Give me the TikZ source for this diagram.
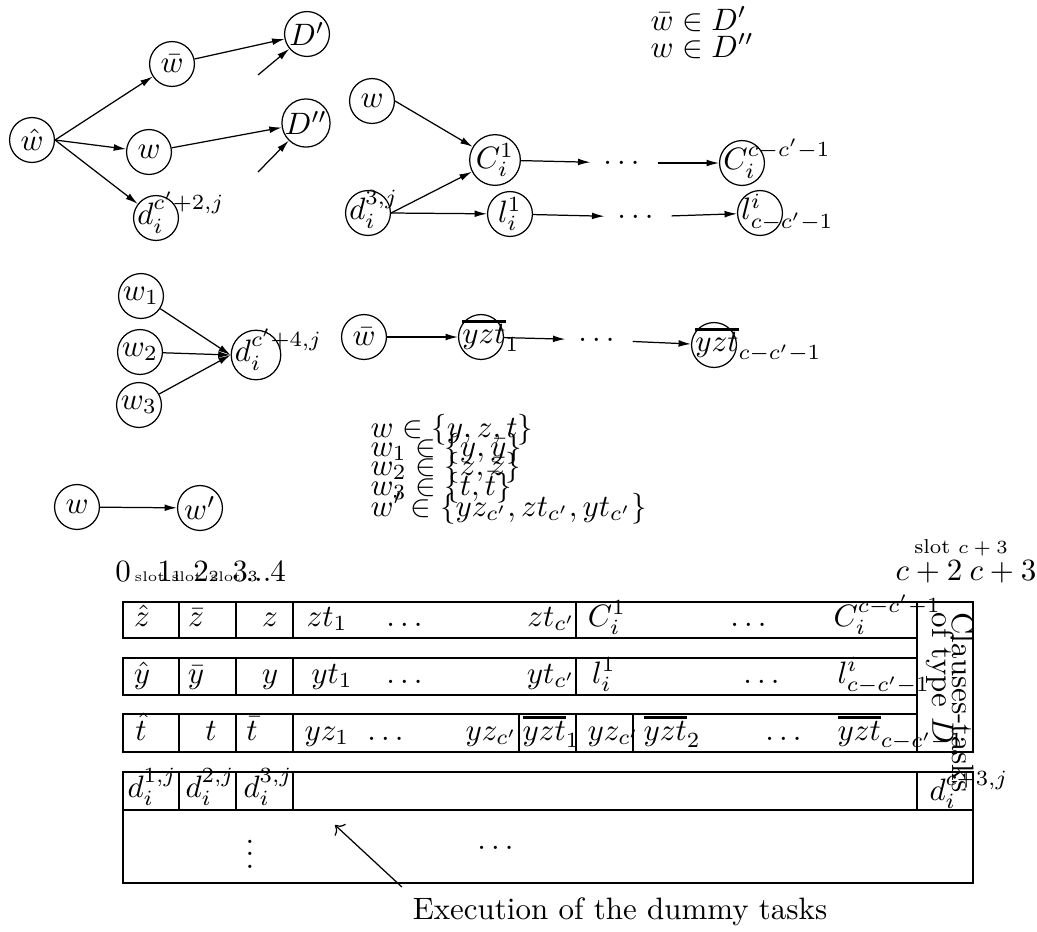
\documentclass[tikz,border=0pt]{standalone}
\usepackage{tikz}
\usetikzlibrary{arrows.meta}
\usepackage{amsmath}
\newcommand{\hvbar}[1]{\vbox{\hrule height 0.9pt\kern 0.6pt\hbox{$#1$}}}

\begin{document}
\begin{tikzpicture}[x=0.323pt, y=-0.323pt,
    task/.style={circle, draw, minimum size=14.5pt, inner sep=0pt},
    spill/.style={label={[anchor=mid west, inner sep=1.2pt]west:#1}},
    flow/.style={-{Latex[length=4pt,width=2.2pt]}},
    dotsn/.style={inner sep=4pt},
    tiny/.style={font=\fontsize{4.5}{5}\selectfont, anchor=base west, inner sep=0pt},
    slotnum/.style={anchor=base, inner sep=0pt},
    rowlbl/.style={anchor=base, inner sep=0pt},
    note/.style={anchor=base west, inner sep=0pt}]
  \useasboundingbox (0,0) rectangle (1037,931);

  % --- w hat and its successors ---
  \node[task] (wh) at (32,140) {$\hat w$};
  \node[task] (wb) at (172,64) {$\bar w$};
  \node[task] (w) at (149,152) {$w$};
  \node[task, spill={$d_i^{c'+2,j}$}] (d2) at (156,218) {};
  \node[task] (Dp) at (307,34) {$D'$};
  \node[task] (Dpp) at (306,123) {$D''$};
  \coordinate (inDp) at (258,75);
  \coordinate (inDpp) at (258,172);
  \draw[flow] (wh.east) -- (wb);
  \draw[flow] (wh.east) -- (w);
  \draw[flow] (wh.east) -- (d2);
  \draw[flow] (wb) -- (Dp);
  \draw[flow] (w) -- (Dpp);
  \draw[flow] (inDp) -- (Dp);
  \draw[flow] (inDpp) -- (Dpp);

  \node[note] (inD1) at (650,30) {$\bar w \in D'$};
  \node[note] (inD2) at (650,57) {$w \in D''$};

  % --- clause chains ---
  \node[task] (wc) at (372,101) {$w$};
  \node[task, spill={$d_i^{3,j}$}] (d3) at (368,213) {};
  \node[task] (C1) at (495,160) {$C_i^1$};
  \node[task] (l1) at (510,214) {$l_i^1$};
  \node[dotsn] (cdots) at (624,163) {$\dots$};
  \node[dotsn] (ldots) at (638,217) {$\dots$};
  \node[task, spill={$C_i^{c-c'-1}$}] (Cn) at (742,163) {};
  \node[task, spill={$l^i_{c-c'-1}$}] (ln) at (760,213) {};
  \draw[flow] (wc.east) -- (C1);
  \draw[flow] (d3.east) -- (C1);
  \draw[flow] (d3.east) -- (l1);
  \draw[flow] (C1) -- (cdots);
  \draw[flow] (cdots) -- (Cn);
  \draw[flow] (l1) -- (ldots);
  \draw[flow] (ldots) -- (ln);

  % --- w1, w2, w3 ---
  \node[task] (w1) at (141,296) {$w_1$};
  \node[task] (w2) at (140,352) {$w_2$};
  \node[task] (w3) at (139,405) {$w_3$};
  \node[task, minimum size=16pt, spill={$d_i^{c'+4,j}$}] (d4) at (256,355) {};
  \draw[flow] (w1) -- (d4.west);
  \draw[flow] (w2) -- (d4.west);
  \draw[flow] (w3) -- (d4.west);

  % --- w bar chain ---
  \node[task] (wbc) at (364,337) {$\bar w$};
  \node[task, spill={$\hvbar{yzt}_1$}] (yzt1) at (481,337) {};
  \node[dotsn] (mdots) at (599,340) {$\dots$};
  \node[task, spill={$\hvbar{yzt}_{c-c'-1}$}] (yztn) at (714,345) {};
  \draw[flow] (wbc) -- (yzt1);
  \draw[flow] (yzt1) -- (mdots);
  \draw[flow] (mdots) -- (yztn);

  % --- w to w' ---
  \node[task] (wl) at (77,507) {$w$};
  \node[task] (wp) at (200,508) {$w'$};
  \draw[flow] (wl) -- (wp);

  \node[note] (dom1) at (370,437) {$w \in \{y,z,t\}$};
  \node[note] (dom2) at (370,456) {$w_1 \in \{y,\bar y\}$};
  \node[note] (dom3) at (370,475) {$w_2 \in \{z,\bar z\}$};
  \node[note] (dom4) at (370,495) {$w_3 \in \{t,\bar t\}$};
  \node[note] (dom5) at (370,516) {$w' \in \{yz_{c'},zt_{c'},yt_{c'}\}$};

  % --- slots ---
  \node[slotnum] (s0) at (123,581) {$0$};
  \node[tiny] (sl1) at (134,581) {slot $1$};
  \node[slotnum] (s1) at (165,581) {$1$};
  \node[tiny] (sl2) at (171,581) {slot $2$};
  \node[slotnum] (s2) at (201,581) {$2$};
  \node[tiny] (sl3) at (210,581) {slot $3$};
  \node[slotnum] (s3) at (240,581) {$3$};
  \node[slotnum, anchor=base west] (s3d) at (245,581) {...};
  \node[slotnum] (s4) at (278,581) {$4$};
  \node[tiny, anchor=base, font=\fontsize{6.5}{7}\selectfont] (slc) at (961,553) {slot $c+3$};
  \node[rowlbl] (sc2) at (929,580) {$c+2$};
  \node[rowlbl] (sc3) at (1003,580) {$c+3$};

  % --- schedule rows ---
  \draw (123,602) rectangle (917,638);
  \draw (123,658) rectangle (917,695);
  \draw (123,714) rectangle (917,752);
  \draw (917,602) rectangle (973,752);
  \draw (123,772) rectangle (973,883);
  \draw (123,810) -- (973,810);
  \foreach \x in {179,236,293,576} {
    \draw (\x,602) -- (\x,638);
    \draw (\x,658) -- (\x,695);
  }
  \foreach \x in {179,236,293,519,576,633}
    \draw (\x,714) -- (\x,752);
  \foreach \x in {179,236,293,917}
    \draw (\x,772) -- (\x,810);

  \node[rowlbl] (zh) at (142,626) {$\hat z$};
  \node[rowlbl] (zb) at (196,626) {$\bar z$};
  \node[rowlbl] (zz) at (270,626) {$z$};
  \node[rowlbl] (zt1) at (327,626) {$zt_1$};
  \node[rowlbl] (zdots) at (407,626) {$\dots$};
  \node[rowlbl, anchor=base east] (ztc) at (576,626) {$zt_{c'}$};
  \node[rowlbl] (ci1) at (607,626) {$C_i^1$};
  \node[rowlbl] (cdots2) at (751,626) {$\dots$};
  \node[rowlbl, anchor=base west] (cin) at (833,626) {$C_i^{c-c'-1}$};

  \node[rowlbl] (yh) at (142,683) {$\hat y$};
  \node[rowlbl] (yb) at (196,683) {$\bar y$};
  \node[rowlbl] (yy) at (270,683) {$y$};
  \node[rowlbl] (yt1) at (332,683) {$yt_1$};
  \node[rowlbl] (ydots) at (407,683) {$\dots$};
  \node[rowlbl, anchor=base east] (ytc) at (576,683) {$yt_{c'}$};
  \node[rowlbl] (li1) at (604,683) {$l_i^1$};
  \node[rowlbl] (ldots2) at (764,683) {$\dots$};
  \node[rowlbl, anchor=base west] (lin) at (837,683) {$l^i_{c-c'-1}$};

  \node[rowlbl] (th) at (141,740) {$\hat t$};
  \node[rowlbl] (tt) at (211,740) {$t$};
  \node[rowlbl] (tb) at (252,740) {$\bar t$};
  \node[rowlbl] (yz1) at (327,740) {$yz_1$};
  \node[rowlbl] (tdots) at (388,740) {$\dots$};
  \node[rowlbl, anchor=base east] (yzc) at (518,740) {$yz_{c'}$};
  \node[rowlbl, anchor=base west] (yzt1b) at (522,740) {$\hvbar{yzt}_1$};
  \node[rowlbl, anchor=base west] (yzcb) at (587,740) {$yz_{c'}$};
  \node[rowlbl, anchor=base west] (yzt2) at (643,740) {$\hvbar{yzt}_2$};
  \node[rowlbl] (t2dots) at (786,740) {$\dots$};
  \node[rowlbl, anchor=base west] (yztnb) at (837,740) {$\hvbar{yzt}_{c-c'-1}$};

  \node[rotate=-90, anchor=west, inner sep=0pt] (clauses) at (963,612) {Clauses-tasks};
  \node[rotate=-90, anchor=west, inner sep=0pt] (oftype) at (940,612) {of type $D$};

  \node[rowlbl] (dd1) at (152,797) {$d_i^{1,j}$};
  \node[rowlbl] (dd2) at (210,797) {$d_i^{2,j}$};
  \node[rowlbl] (dd3) at (268,797) {$d_i^{3,j}$};
  \node[rowlbl, anchor=base west] (ddn) at (929,800) {$d_i^{c+3,j}$};

  \node (vd) at (250,845) {$\vdots$};
  \node (hd) at (498,848) {$\dots$};

  % --- dummy tasks ---
  \node (exec) at (620,912) {Execution of the dummy tasks};
  \coordinate (dummy) at (335,825);
  \draw[->] (exec.north west) -- (dummy);
\end{tikzpicture}
\end{document}
